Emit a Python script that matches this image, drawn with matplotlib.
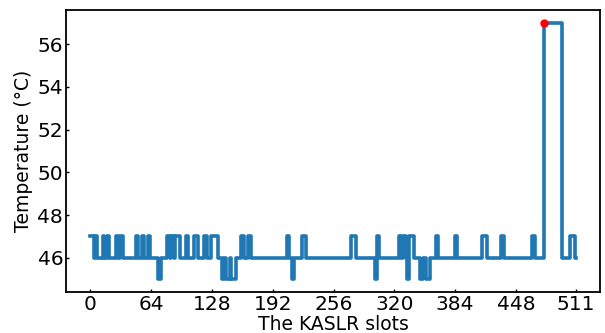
import matplotlib
matplotlib.use("Agg")
import matplotlib.pyplot as plt

# --- data: slot where the temperature changes, and the new temperature ---
change_slots = [0, 4, 5, 7, 13, 15, 18, 20, 27, 29, 31, 34, 48, 50, 55, 57, 61, 63,
                71, 74, 81, 84, 85, 88, 89, 94, 101, 103, 109, 113, 120, 123,
                127, 134, 139, 141, 143, 147, 148, 153, 159, 162, 166, 169,
                207, 209, 212, 214, 223, 227, 274, 280, 300, 302, 304,
                325, 327, 329, 332, 333, 335, 341, 347, 350, 353, 357,
                364, 366, 384, 386, 412, 417, 432, 435, 465, 468,
                477, 496, 505, 510, 511]
change_temps = [47, 46, 47, 46, 47, 46, 47, 46, 47, 46, 47, 46, 47, 46, 47, 46, 47, 46,
                45, 46, 47, 46, 47, 46, 47, 46, 47, 46, 47, 46, 47, 46,
                47, 46, 45, 46, 45, 46, 45, 46, 47, 46, 47, 46,
                47, 46, 45, 46, 47, 46, 47, 46, 45, 47, 46,
                47, 46, 47, 46, 45, 47, 46, 45, 46, 45, 46,
                47, 46, 47, 46, 47, 46, 47, 46, 47, 46,
                57, 46, 47, 46, 46]

peak_slot = 477
peak_temp = 57

x_ticks = [0, 64, 128, 192, 256, 320, 384, 448, 511]
y_ticks = [46, 48, 50, 52, 54, 56]

fig = plt.figure(figsize=(6.05, 3.33), dpi=100)
ax = fig.add_axes([0.109, 0.123, 0.883, 0.847])

ax.plot(change_slots, change_temps, drawstyle="steps-post",
        color="#1f77b4", linewidth=2.6)
ax.plot([peak_slot], [peak_temp], "o", color="red", markersize=5, zorder=3)

ax.set_xticks(x_ticks)
ax.set_yticks(y_ticks)
ax.tick_params(labelsize=14.5, length=2, width=1, direction="in", pad=2)
ax.set_xlabel("The KASLR slots", fontsize=13.5, labelpad=1)
ax.set_ylabel("Temperature (°C)", fontsize=13.5, labelpad=3)
for sp in ax.spines.values():
    sp.set_linewidth(1.3)

fig.savefig("out.png", dpi=100)
